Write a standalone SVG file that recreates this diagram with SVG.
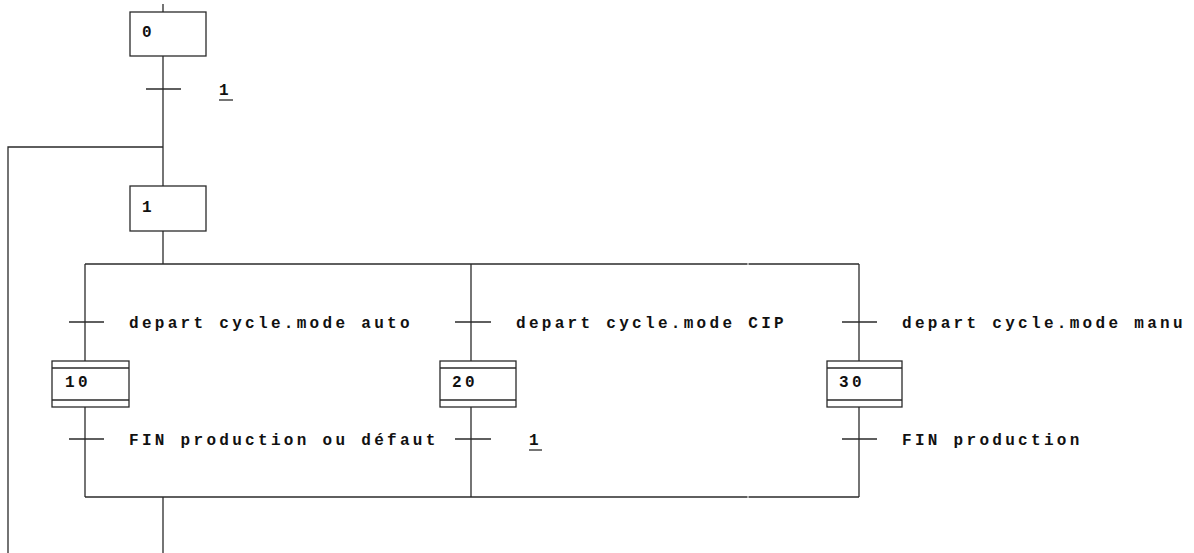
<svg xmlns="http://www.w3.org/2000/svg" width="1194" height="553" viewBox="0 0 1194 553">
<style>
.ln{stroke:#2a2a2a;stroke-width:1.3;fill:none}
.bx{stroke:#2a2a2a;stroke-width:1.3;fill:#fff}
.t{font-family:"Liberation Mono","Courier New",monospace;font-size:16px;font-weight:bold;letter-spacing:3.3px;fill:#111}
</style>
<rect width="1194" height="553" fill="#fff"/>
<g id="connectors">
<line class="ln" x1="163" y1="4" x2="163" y2="12"/>
<line class="ln" x1="163" y1="56" x2="163" y2="186"/>
<line class="ln" x1="146" y1="89" x2="181" y2="89"/>
<polyline class="ln" points="163,147 8,147 8,553"/>
<line class="ln" x1="163" y1="231" x2="163" y2="264"/>
<line class="ln" x1="85" y1="264" x2="747.5" y2="264"/>
<line class="ln" x1="748.5" y1="264" x2="859" y2="264"/>
<line class="ln" x1="85" y1="264" x2="85" y2="361"/>
<line class="ln" x1="471" y1="264" x2="471" y2="361"/>
<line class="ln" x1="859" y1="264" x2="859" y2="361"/>
<line class="ln" x1="69" y1="322" x2="104" y2="322"/>
<line class="ln" x1="455" y1="322" x2="491" y2="322"/>
<line class="ln" x1="842" y1="322" x2="877" y2="322"/>
<line class="ln" x1="85" y1="407" x2="85" y2="497"/>
<line class="ln" x1="471" y1="407" x2="471" y2="497"/>
<line class="ln" x1="859" y1="407" x2="859" y2="497"/>
<line class="ln" x1="69" y1="439" x2="104" y2="439"/>
<line class="ln" x1="455" y1="439" x2="491" y2="439"/>
<line class="ln" x1="842" y1="439" x2="877" y2="439"/>
<line class="ln" x1="85" y1="497" x2="747.5" y2="497"/>
<line class="ln" x1="748.5" y1="497" x2="859" y2="497"/>
<line class="ln" x1="163" y1="497" x2="163" y2="553"/>
</g>
<g id="labels">
<text class="t" x="219" y="95">1</text>
<line class="ln" x1="219" y1="100" x2="233" y2="100"/>
<text class="t" x="129" y="328">depart cycle.mode auto</text>
<text class="t" x="516" y="328">depart cycle.mode CIP</text>
<text class="t" x="902" y="328">depart cycle.mode manu</text>
<text class="t" x="129" y="445">FIN production ou défaut</text>
<text class="t" x="529" y="445">1</text>
<line class="ln" x1="529" y1="450" x2="542" y2="450"/>
<text class="t" x="902" y="445">FIN production</text>
</g>
<g id="step0">
<rect class="bx" x="130" y="12" width="76" height="44"/>
<text class="t" x="142" y="37">0</text>
</g>
<g id="step1">
<rect class="bx" x="130" y="186" width="76" height="45"/>
<text class="t" x="142" y="212">1</text>
</g>
<g id="step10">
<rect class="bx" x="52" y="361" width="77" height="46"/>
<line class="ln" x1="52" y1="368" x2="129" y2="368"/>
<line class="ln" x1="52" y1="400" x2="129" y2="400"/>
<text class="t" x="65" y="387">10</text>
</g>
<g id="step20">
<rect class="bx" x="440" y="361" width="76" height="46"/>
<line class="ln" x1="440" y1="368" x2="516" y2="368"/>
<line class="ln" x1="440" y1="400" x2="516" y2="400"/>
<text class="t" x="452" y="387">20</text>
</g>
<g id="step30">
<rect class="bx" x="827" y="361" width="75" height="46"/>
<line class="ln" x1="827" y1="368" x2="902" y2="368"/>
<line class="ln" x1="827" y1="400" x2="902" y2="400"/>
<text class="t" x="839" y="387">30</text>
</g>
</svg>
